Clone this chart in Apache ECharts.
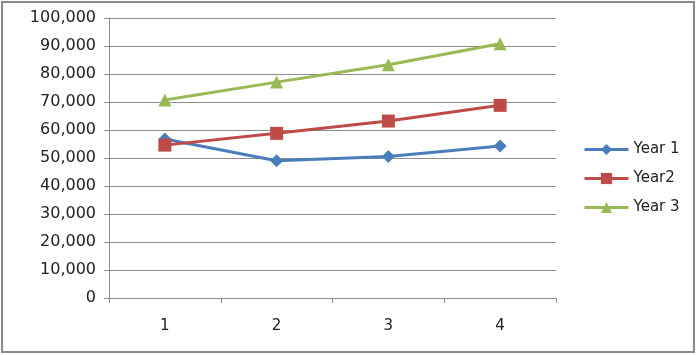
<!DOCTYPE html>
<html>
<head>
<meta charset="utf-8">
<script src="https://cdn.jsdelivr.net/npm/echarts@6/dist/echarts.min.js"></script>
<style>
  html, body { margin: 0; padding: 0; background: #fff; }
  #main { width: 698px; height: 355px; }
</style>
</head>
<body>
<div id="main"></div>
<script>
const categories = ['1', '2', '3', '4'];
const year1 = [56800, 49000, 50500, 54300];
const year2 = [54600, 58800, 63200, 68800];
const year3 = [70700, 77100, 83300, 90800];

const myChart = echarts.init(document.querySelector('#main'));

const font = 'DejaVu Sans';
const gridColor = '#8c8c8c';

const option = {
  backgroundColor: '#fff',
  animation: false,
  graphic: [{
    type: 'rect',
    shape: { x: 2, y: 2, width: 692, height: 350 },
    style: { fill: 'none', stroke: '#8a8a8a', lineWidth: 2 },
    silent: true
  }],
  grid: {
    left: 109,
    right: 142,
    top: 18,
    bottom: 57
  },
  legend: {
    orient: 'vertical',
    left: 578,
    top: 137,
    itemWidth: 44,
    itemHeight: 14,
    itemGap: 14,
    lineStyle: { width: 3 },
    textStyle: { fontFamily: font, fontSize: 15, color: '#222' },
    data: ['Year 1', 'Year2', 'Year 3']
  },
  xAxis: {
    type: 'category',
    data: categories,
    boundaryGap: true,
    axisLine: { lineStyle: { color: gridColor, width: 1 } },
    axisTick: { show: true, length: 5, lineStyle: { color: gridColor } },
    axisLabel: { fontFamily: font, fontSize: 15, color: '#222', margin: 21 }
  },
  yAxis: {
    type: 'value',
    min: 0,
    max: 100000,
    interval: 10000,
    axisLine: { show: true, lineStyle: { color: gridColor, width: 1 } },
    axisTick: { show: true, length: 5, lineStyle: { color: gridColor } },
    splitLine: { lineStyle: { color: gridColor, width: 1 } },
    axisLabel: {
      fontFamily: font,
      fontSize: 16,
      color: '#222',
      margin: 13,
      formatter: v => v.toLocaleString('en-US')
    }
  },
  series: [
    {
      name: 'Year 1',
      type: 'line',
      data: year1,
      symbol: 'diamond',
      symbolSize: 13,
      itemStyle: { color: '#4a7ebb' },
      lineStyle: { width: 3, color: '#4a7ebb' }
    },
    {
      name: 'Year2',
      type: 'line',
      data: year2,
      symbol: 'rect',
      symbolSize: 13,
      itemStyle: { color: '#be4b48' },
      lineStyle: { width: 3, color: '#be4b48' }
    },
    {
      name: 'Year 3',
      type: 'line',
      data: year3,
      symbol: 'triangle',
      symbolSize: 13,
      itemStyle: { color: '#98b954' },
      lineStyle: { width: 3, color: '#98b954' }
    }
  ]
};

myChart.setOption(option);
</script>
</body>
</html>
